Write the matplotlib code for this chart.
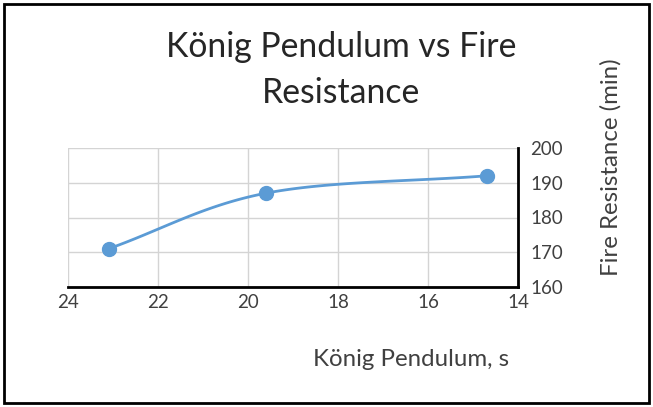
import numpy as np
import matplotlib.pyplot as plt
from matplotlib.patches import Rectangle

pendulum = [23.1, 19.6, 14.7]
fire_res = [171, 187, 192]
x_ticks = [24, 22, 20, 18, 16, 14]
y_ticks = [160, 170, 180, 190, 200]

W, H = 653, 407
plt.rcParams['font.family'] = ['Lato', 'DejaVu Sans']

def smooth(xs, ys, n=40):
    # Catmull-Rom through the points, ends padded by reflection
    p = np.column_stack([xs, ys]).astype(float)
    p = np.vstack([2 * p[0] - p[1], p, 2 * p[-1] - p[-2]])
    out = []
    for i in range(1, len(p) - 2):
        p0, p1, p2, p3 = p[i - 1], p[i], p[i + 1], p[i + 2]
        t = np.linspace(0, 1, n)[:, None]
        c = 0.5 * ((2 * p1) + (-p0 + p2) * t + (2 * p0 - 5 * p1 + 4 * p2 - p3) * t ** 2
                   + (-p0 + 3 * p1 - 3 * p2 + p3) * t ** 3)
        out.append(c)
    c = np.vstack(out)
    return c[:, 0], c[:, 1]

def fit(txt, width_px):
    # scale font size so the text takes the given width in pixels
    r = fig.canvas.get_renderer()
    bb = txt.get_window_extent(r)
    w = bb.height if txt.get_rotation() else bb.width
    txt.set_fontsize(txt.get_fontsize() * width_px / w)

fig = plt.figure(figsize=(W / 100, H / 100), dpi=100)
ax = fig.add_axes([68 / W, 1 - 287 / H, 450 / W, 139 / H])

sx, sy = smooth(pendulum, fire_res)
ax.plot(sx, sy, color='#5b9bd5', lw=2.0, zorder=3)
ax.plot(pendulum, fire_res, 'o', color='#5b9bd5', ms=10, zorder=4)

ax.set_xlim(24, 14)
ax.set_ylim(160, 200)
ax.set_xticks(x_ticks)
ax.set_yticks(y_ticks)
ax.yaxis.tick_right()
ax.tick_params(length=0, labelsize=13.5, colors='#404040')
ax.tick_params(axis='x', pad=5)
ax.tick_params(axis='y', pad=9)
ax.grid(True, color='#d4d4d4', lw=1)
for s in ['top', 'left']:
    ax.spines[s].set_visible(False)
for s in ['bottom', 'right']:
    ax.spines[s].set_color('black')
    ax.spines[s].set_linewidth(2)

t1 = fig.text(341 / W, 1 - 47 / H, 'König Pendulum vs Fire', ha='center', va='center',
              fontsize=20, color='#262626')
t2 = fig.text(341 / W, 1 - 93 / H, 'Resistance', ha='center', va='center',
              fontsize=20, color='#262626')
xl = fig.text(411 / W, 1 - 360 / H, 'König Pendulum, s', ha='center', va='center',
              fontsize=14, color='#404040')
yl = fig.text(611 / W, 1 - 167 / H, 'Fire Resistance (min)', ha='center', va='center',
              rotation=90, fontsize=14, color='#404040')
fit(t1, 352)
t2.set_fontsize(t1.get_fontsize())
fit(xl, 196)
yl.set_fontsize(xl.get_fontsize())

fig.patches.append(Rectangle((4 / W, 4 / H), 645 / W, 399 / H, transform=fig.transFigure,
                             fill=False, ec='black', lw=2))

fig.savefig('out.png', dpi=100)
